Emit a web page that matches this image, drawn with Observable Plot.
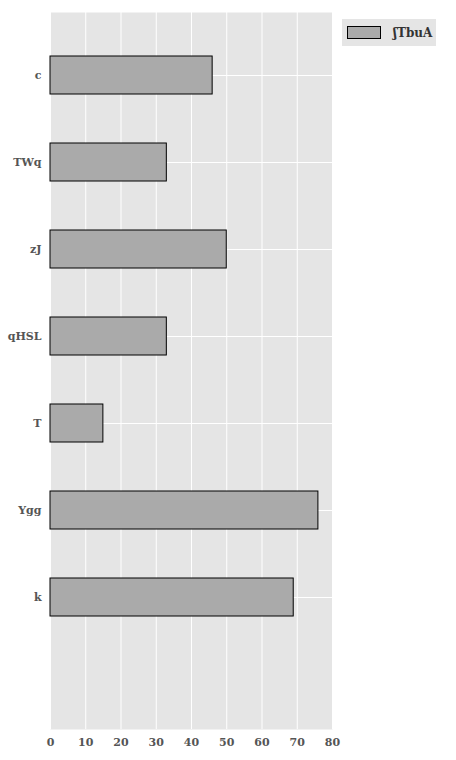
<!DOCTYPE html>
<html>
<head>
<meta charset="utf-8">
<script src="https://cdn.jsdelivr.net/npm/d3@7"></script>
<script src="https://cdn.jsdelivr.net/npm/@observablehq/plot@0.6"></script>
<style>
  body { margin: 0; background: white; }
  #wrap { position: relative; width: 456px; height: 760px; }
  #legend { position: absolute; left: 342px; top: 19px; width: 94px; height: 27px; background: #e5e5e5;
    font: bold 12px "DejaVu Serif", serif; color: #333; display: flex; align-items: center; }
  #legend .sw { width: 32px; height: 11px; background: #aaaaaa; border: 1px solid #000; margin: 0 12px 0 5px; }
</style>
</head>
<body>
<div id="wrap">
  <div id="plot"></div>
  <div id="legend"><span class="sw"></span>ʃTbuA</div>
</div>
<script>
const categories = ["c", "TWq", "zJ", "qHSL", "T", "Ygg", "k"];
const values = [46, 33, 50, 33, 15, 76, 69];
const xTicks = [0, 10, 20, 30, 40, 50, 60, 70, 80];

const data = categories.map((name, i) => ({ name, value: values[i] }));

const chart = Plot.plot({
    width: 456,
    height: 760,
    marginLeft: 50,
    marginRight: 124,
    marginTop: 12,
    marginBottom: 31,
    style: { fontFamily: "DejaVu Serif", fontSize: "11px", fontWeight: "bold", color: "#555" },
    x: { domain: [0, 80], ticks: xTicks, label: null, tickSize: 0 },
    y: { domain: categories, range: [7, 665], padding: 0.56, label: null, tickSize: 0 },
    marks: [
        Plot.frame({ fill: "#e5e5e5" }),
        Plot.gridX(xTicks, { stroke: "white", strokeOpacity: 1, strokeWidth: 1 }),
        Plot.gridY(categories, { stroke: "white", strokeOpacity: 1, strokeWidth: 1 }),
        Plot.barX(data, { x: "value", y: "name", fill: "#aaaaaa", stroke: "black", strokeWidth: 1 }),
    ],
});

document.getElementById("plot").appendChild(chart);
</script>
</body>
</html>
